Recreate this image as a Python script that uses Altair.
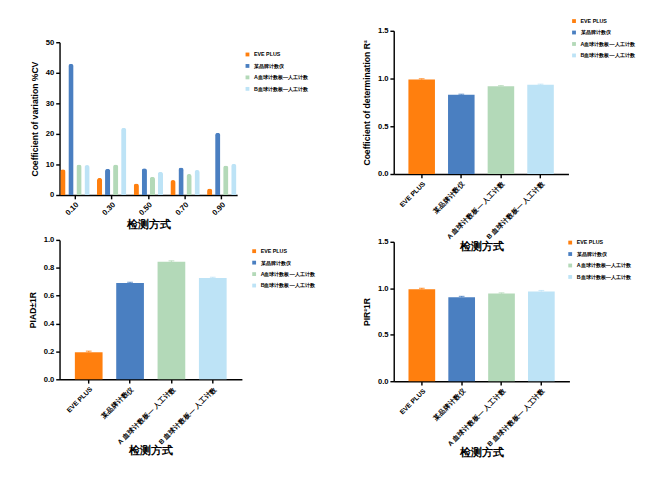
import altair as alt
import pandas as pd

series = ["EVE PLUS", "某品牌计数仪", "A血球计数板—人工计数", "B血球计数板—人工计数"]
methods = ["EVE PLUS", "某品牌计数仪", "A 血球计数板— 人工计数", "B 血球计数板— 人工计数"]
colors = ["#FF7F0E", "#4A7FC1", "#B3D9B8", "#BDE3F6"]

levels = ["0.10", "0.30", "0.50", "0.70", "0.90"]
cv_eve = [8.4, 5.6, 3.8, 4.9, 2.1]
cv_brand = [43.0, 8.6, 8.8, 9.0, 20.4]
cv_a = [10.0, 10.0, 6.0, 6.9, 9.7]
cv_b = [9.8, 22.0, 7.6, 8.2, 10.2]

r2 = [0.99, 0.83, 0.92, 0.935]
r2_err = [0.008, 0.006, 0.006, 0.006]
pi_ad = [0.194, 0.69, 0.844, 0.727]
pi_ad_err = [0.008, 0.006, 0.006, 0.005]
pi_r2 = [0.99, 0.903, 0.943, 0.966]
pi_r2_err = [0.01, 0.01, 0.008, 0.01]

FONT = "Liberation Sans"
X_TITLE = "检测方式"


def color_enc(lx, ly):
    return alt.Color("series:N",
                     scale=alt.Scale(domain=series, range=colors),
                     legend=alt.Legend(title=None, orient="none",
                                       legendX=lx, legendY=ly, padding=0,
                                       symbolType="square", symbolSize=16,
                                       labelFontSize=5.6, labelFont=FONT,
                                       labelFontWeight="bold", labelOffset=4,
                                       rowPadding=5, symbolStrokeWidth=0))


def y_axis(title, fmt, values):
    return alt.Axis(title=title, format=fmt, values=values, grid=False,
                    labelOverlap=False, labelFlush=False,
                    domainColor="black", domainWidth=1.5, tickColor="black",
                    tickWidth=1.5, tickSize=4, labelFontSize=8,
                    labelFontWeight="bold", labelColor="black",
                    titleFontSize=9, titleColor="black", titlePadding=6)


def x_axis(title=X_TITLE, size=7):
    return alt.Axis(title=title, labelAngle=-45, domainColor="black",
                    domainWidth=1.5, tickColor="black", tickWidth=1.5,
                    tickSize=4, labelFontSize=size, labelFontWeight="bold",
                    labelColor="black", titleFontSize=12, titleColor="black",
                    titlePadding=2)


cv_rows = []
for name, vals in zip(series, [cv_eve, cv_brand, cv_a, cv_b]):
    for lev, v in zip(levels, vals):
        cv_rows.append({"level": lev, "series": name, "value": v})
cv_df = pd.DataFrame(cv_rows)

cv_chart = alt.Chart(cv_df).mark_bar(
    cornerRadiusTopLeft=3, cornerRadiusTopRight=3
).encode(
    x=alt.X("level:N", sort=levels, axis=x_axis(size=8),
            scale=alt.Scale(paddingInner=0.2, paddingOuter=0.02)),
    xOffset=alt.XOffset("series:N", sort=series,
                        scale=alt.Scale(paddingInner=0.35)),
    y=alt.Y("value:Q", scale=alt.Scale(domain=[0, 50]),
            axis=y_axis("Coefficient of variation %CV", "d",
                        [0, 10, 20, 30, 40, 50])),
    color=color_enc(194, 10),
).properties(width=186, height=160)


def bar_panel(vals, errs, title, dom, ticks, w, h, lx, ly,
              xtitle=X_TITLE, top_title=None):
    df = pd.DataFrame({"method": methods, "series": series,
                       "value": vals, "err": errs})
    df["hi"] = df["value"] + df["err"]
    base = alt.Chart(df)
    x = alt.X("method:N", sort=methods, axis=x_axis(xtitle),
              scale=alt.Scale(paddingInner=0.33, paddingOuter=0.37))
    ysc = alt.Scale(domain=dom)
    yax = y_axis(title, ".1f", ticks)
    bars = base.mark_bar().encode(
        x=x,
        y=alt.Y("value:Q", scale=ysc, axis=yax),
        color=color_enc(lx, ly),
    )
    plain = alt.Color("series:N", scale=alt.Scale(domain=series, range=colors),
                      legend=None)
    rule = base.mark_rule(strokeWidth=1.2).encode(
        x=x, y=alt.Y("value:Q", scale=ysc, axis=yax), y2="hi:Q", color=plain)
    cap = base.mark_tick(thickness=1.2, size=6).encode(
        x=x, y=alt.Y("hi:Q", scale=ysc, axis=yax), color=plain)
    layered = bars + rule + cap
    if top_title:
        layered = layered.properties(title=top_title)
    return layered.properties(width=w, height=h)


r2_chart = bar_panel(r2, r2_err, "Coefficient of determination R²",
                     [0, 1.5], [0, 0.5, 1.0, 1.5], 183, 150, 186, -13,
                     xtitle="")
ad_chart = bar_panel(pi_ad, pi_ad_err, "PIAD±1R",
                     [0, 1.0], [0, 0.2, 0.4, 0.6, 0.8, 1.0], 191, 146, 201, 9)
# the R² panel's x title sits low, over the top of this panel in the source
pr_chart = bar_panel(pi_r2, pi_r2_err, "PIR²1R",
                     [0, 1.5], [0, 0.5, 1.0, 1.5], 184, 146, 182, -2,
                     top_title=alt.Title(X_TITLE, fontSize=12, offset=-16,
                                         color="black"))

# invisible spacer: the CV panel starts lower than the R² panel
spacer = alt.Chart(pd.DataFrame({"s": [0]})).mark_point(
    size=1, opacity=0
).encode(x=alt.value(0), y=alt.value(7)).properties(width=1, height=7)

left = alt.vconcat(
    spacer,
    alt.vconcat(cv_chart, ad_chart, spacing=7).resolve_scale(color="independent"),
    spacing=0,
).resolve_scale(color="independent")
right = alt.vconcat(r2_chart, pr_chart, spacing=0).resolve_scale(color="independent")

chart = alt.hconcat(left, right, spacing=42).resolve_scale(
    color="independent"
).configure(font=FONT).configure_view(stroke=None).properties(
    padding={"left": 21, "top": 0, "right": 0, "bottom": 0}
)

chart.save("out.html", embed_options={"renderer": "svg", "actions": False})
